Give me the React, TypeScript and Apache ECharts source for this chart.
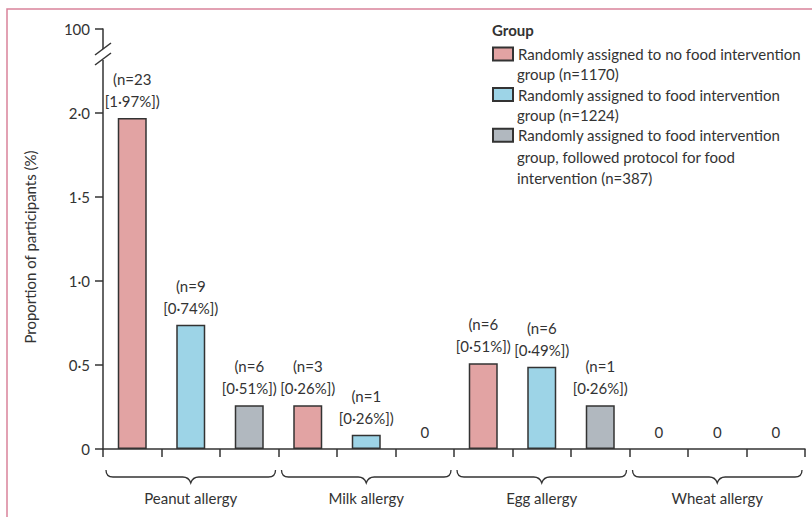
import React, { useEffect, useRef } from "react";
import * as echarts from "echarts";

const slots = ["p1", "p2", "p3", "m1", "m2", "m3", "e1", "e2", "e3", "w1", "w2", "w3"];
const groups = ["Peanut allergy", "Milk allergy", "Egg allergy", "Wheat allergy"];
const legendNames = ["noFood", "food", "foodProtocol"];
const legendFirstLines = [
  "Randomly assigned to no food intervention",
  "Randomly assigned to food intervention",
  "Randomly assigned to food intervention",
];
const legendMoreLines = [
  ["group (n=1170)"],
  ["group (n=1224)"],
  ["group, followed protocol for food", "intervention (n=387)"],
];
// bar heights (%), per group: peanut, milk, egg, wheat
const noFoodValues = [1.97, 0.26, 0.51, 0];
const foodValues = [0.74, 0.085, 0.49, 0];
const protocolValues = [0.26, 0, 0.26, 0];
const noFoodLabels = ["(n=23\n[1·97%])", "(n=3\n[0·26%])", "(n=6\n[0·51%])", "0"];
const foodLabels = ["(n=9\n[0·74%])", "(n=1\n[0·26%])", "(n=6\n[0·49%])", "0"];
const protocolLabels = ["(n=6\n[0·51%])", "0", "(n=1\n[0·26%])", "0"];
const yTickTop = "100";

const colors = ["#e2a3a3", "#9dd4e7", "#b1b8bf"];
const ink = "#333333";
const FONT = "Lato";
const FS = 15;

function spread(vals: number[], offset: number) {
  const out: any[] = slots.map(() => "-");
  vals.forEach(
    (v, i) => (out[i * 3 + offset] = v === 0 ? { value: 0, itemStyle: { borderWidth: 0 } } : v)
  );
  return out;
}

export default function App() {
  const ref = useRef<HTMLDivElement>(null);
  useEffect(() => {
    if (!ref.current) return;
    const chart = echarts.init(ref.current, null, { renderer: "svg" });
    const labelSets = [noFoodLabels, foodLabels, protocolLabels];
    const valueSets = [noFoodValues, foodValues, protocolValues];
    const barSeries = legendNames.map((name, k) => ({
      name,
      type: "bar",
      xAxisIndex: 0,
      yAxisIndex: 0,
      barWidth: 29,
      barGap: "-100%",
      data: spread(valueSets[k], k),
      itemStyle: { color: colors[k], borderColor: ink, borderWidth: 1.5 },
      label: {
        show: true,
        position: "top",
        distance: 6,
        color: ink,
        fontFamily: FONT,
        fontSize: FS,
        lineHeight: 22,
        formatter: (p: any) => labelSets[k][Math.floor(p.dataIndex / 3)],
      },
    }));

    const legendGraphics: any[] = [
      {
        type: "text",
        left: 492,
        top: 22,
        style: { text: "Group", font: `bold ${FS}px ${FONT}`, fill: ink },
      },
    ];
    const lineH = 20.8;
    let line = 0;
    legendMoreLines.forEach((more) => {
      line += 1;
      more.forEach((t) => {
        legendGraphics.push({
          type: "text",
          x: 517,
          y: 53 + line * lineH,
          style: {
            text: t,
            font: `${FS}px ${FONT}`,
            fill: ink,
            verticalAlign: "middle",
          },
        });
        line += 1;
      });
    });

    chart.setOption({
      animation: false,
      grid: { left: 103, right: 7, top: 29, bottom: 68 },
      legend: {
        data: legendNames.map((n) => ({ name: n, icon: "rect" })),
        orient: "vertical",
        left: 492,
        top: 46.5,
        padding: 0,
        itemWidth: 20,
        itemHeight: 13,
        itemGap: 25.6,
        selectedMode: false,
        formatter: (n: string) => legendFirstLines[legendNames.indexOf(n)],
        textStyle: { color: ink, fontFamily: FONT, fontSize: FS, lineHeight: 13 },
      },
      xAxis: [
        {
          type: "category",
          data: slots,
          axisLine: { lineStyle: { color: ink, width: 1.5 } },
          axisTick: { show: true, length: 8, lineStyle: { color: ink, width: 1.5 } },
          axisLabel: { show: false },
        },
        {
          type: "category",
          data: groups,
          position: "bottom",
          offset: 33,
          axisLine: { show: false },
          axisTick: { show: false },
          axisLabel: { color: ink, fontFamily: FONT, fontSize: FS, margin: 8 },
        },
      ],
      yAxis: {
        type: "value",
        min: 0,
        max: 2.5,
        interval: 0.5,
        name: "Proportion of participants (%)",
        nameLocation: "middle",
        nameGap: 66,
        nameTextStyle: { color: ink, fontFamily: FONT, fontSize: FS, padding: [0, 16, 0, 0] },
        axisLine: { show: true, lineStyle: { color: ink, width: 1.5 } },
        axisTick: { show: true, length: 8, lineStyle: { color: ink, width: 1.5 } },
        splitLine: { show: false },
        axisLabel: {
          color: ink,
          fontFamily: FONT,
          fontSize: FS,
          margin: 13,
          formatter: (v: number) =>
            v === 0 ? "0" : v >= 2.5 ? yTickTop : v.toFixed(1).replace(".", "·"),
        },
      },
      series: [
        ...barSeries,
        {
          type: "custom",
          xAxisIndex: 1,
          yAxisIndex: 0,
          silent: true,
          clip: false,
          data: groups.map((_, i) => [i]),
          encode: { x: 0 },
          renderItem: (params: any, api: any) => {
            const c = api.coord([api.value(0), 0]);
            const w = api.size([1, 0])[0];
            const x0 = c[0] - w / 2 + 3;
            const x1 = c[0] + w / 2 - 3;
            const xc = c[0];
            const yT = c[1] + 21;
            const yM = c[1] + 28;
            const yB = c[1] + 34;
            const d = `M${x0} ${yT} Q${x0} ${yM} ${x0 + 7} ${yM} L${xc - 8} ${yM} Q${xc - 2} ${yM} ${xc} ${yB} Q${xc + 2} ${yM} ${xc + 8} ${yM} L${x1 - 7} ${yM} Q${x1} ${yM} ${x1} ${yT}`;
            return {
              type: "path",
              shape: { pathData: d },
              style: { fill: "none", stroke: ink, lineWidth: 1.3 },
            };
          },
        },
      ],
      graphic: [
        {
          type: "rect",
          shape: { x: 7, y: 9, width: 900, height: 600 },
          style: { fill: "none", stroke: "#d9829a", lineWidth: 1.5 },
          silent: true,
        },
        {
          type: "rect",
          z: 100,
          shape: { x: 99, y: 49, width: 8, height: 11 },
          style: { fill: "#ffffff" },
          silent: true,
        },
        {
          type: "line",
          z: 101,
          shape: { x1: 95, y1: 55, x2: 111, y2: 43 },
          style: { stroke: ink, lineWidth: 1.5 },
          silent: true,
        },
        {
          type: "line",
          z: 101,
          shape: { x1: 95, y1: 65, x2: 111, y2: 53 },
          style: { stroke: ink, lineWidth: 1.5 },
          silent: true,
        },
        ...legendGraphics,
      ],
    });
    return () => chart.dispose();
  }, []);
  return (
    <div
      ref={ref}
      style={{ position: "absolute", left: 0, top: 0, width: 812, height: 517, background: "#fff" }}
    />
  );
}
